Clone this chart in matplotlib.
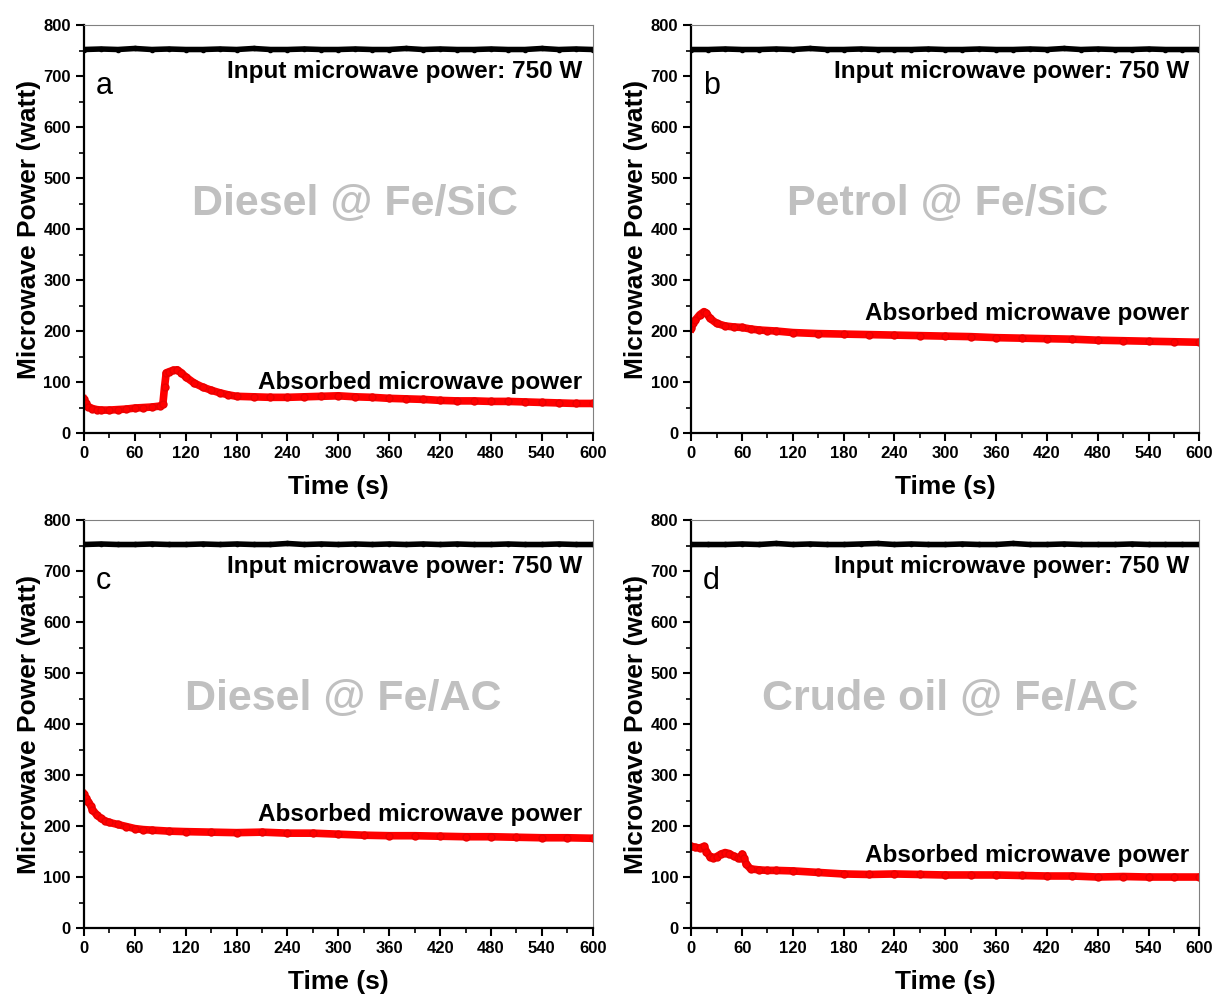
import numpy as np
import matplotlib.pyplot as plt
from matplotlib.ticker import MultipleLocator

plt.rcParams['font.family'] = ['Liberation Sans', 'DejaVu Sans']

# input power (black), sampled every 20 s
t_input = list(range(0, 601, 20))
p_input_a = [752, 753, 752, 754, 752, 753, 752, 752, 753, 752, 754, 752, 752, 753, 752, 752,
             753, 752, 752, 754, 752, 753, 752, 752, 753, 752, 752, 754, 752, 753, 752]
p_input_b = [752, 752, 753, 752, 752, 753, 752, 754, 752, 752, 753, 752, 752, 752, 753, 752,
             752, 753, 752, 752, 753, 752, 754, 752, 753, 752, 752, 753, 752, 752, 752]
p_input_c = [752, 753, 752, 752, 753, 752, 752, 753, 752, 753, 752, 752, 754, 752, 753, 752,
             753, 752, 753, 752, 753, 752, 753, 752, 752, 753, 752, 752, 753, 752, 752]
p_input_d = [752, 752, 752, 753, 752, 754, 752, 753, 752, 752, 753, 754, 752, 753, 752, 752,
             753, 752, 752, 754, 752, 752, 753, 752, 752, 752, 753, 752, 752, 752, 752]

# absorbed power (red)
t_a = [0, 2, 5, 10, 15, 20, 30, 40, 50, 60, 70, 80, 90, 93, 95, 97, 100, 105, 110, 115, 120, 130,
       140, 150, 160, 170, 180, 200, 220, 240, 260, 280, 300, 320, 340, 360, 380, 400, 420, 440,
       460, 480, 500, 520, 540, 560, 580, 600]
p_a = [66, 58, 52, 48, 46, 45, 45, 46, 47, 49, 50, 51, 53, 56, 90, 118, 120, 123, 124, 118, 110, 98,
       90, 84, 79, 75, 72, 71, 70, 70, 71, 72, 73, 71, 70, 68, 67, 66, 64, 63,
       63, 62, 62, 61, 60, 59, 58, 58]

t_b = [0, 2, 5, 10, 15, 18, 22, 30, 40, 50, 60, 70, 80, 90, 100, 120, 150, 180, 210, 240, 270, 300,
       330, 360, 390, 420, 450, 480, 510, 540, 570, 600]
p_b = [205, 215, 222, 232, 238, 235, 225, 215, 210, 208, 207, 204, 202, 201, 200, 197, 195, 194, 193,
       192, 191, 190, 189, 187, 186, 185, 184, 182, 181, 180, 179, 178]

t_c = [0, 2, 5, 8, 10, 15, 20, 25, 30, 40, 50, 60, 70, 80, 100, 120, 150, 180, 210, 240, 270, 300,
       330, 360, 390, 420, 450, 480, 510, 540, 570, 600]
p_c = [262, 255, 248, 240, 232, 222, 215, 210, 207, 203, 199, 195, 193, 192, 190, 189, 188, 187, 188,
       186, 186, 184, 182, 181, 181, 180, 179, 179, 178, 177, 177, 176]

t_d = [0, 5, 10, 15, 18, 22, 26, 30, 35, 40, 45, 50, 55, 58, 60, 62, 65, 70, 80, 90, 100, 120, 150,
       180, 210, 240, 270, 300, 330, 360, 390, 420, 450, 480, 510, 540, 570, 600]
p_d = [160, 158, 157, 160, 150, 140, 138, 140, 145, 148, 146, 141, 138, 137, 145, 138, 125, 116, 114,
       113, 113, 112, 109, 106, 105, 106, 105, 104, 104, 104, 103, 102, 102, 100, 101, 100, 100, 100]

letters = ['a', 'b', 'c', 'd']
titles = ['Diesel @ Fe/SiC', 'Petrol @ Fe/SiC', 'Diesel @ Fe/AC', 'Crude oil @ Fe/AC']
title_x = [320, 303, 306, 306]
absorbed_label_y = [100, 234, 223, 142]

panels = [(t_a, p_a, p_input_a), (t_b, p_b, p_input_b), (t_c, p_c, p_input_c), (t_d, p_d, p_input_d)]
positions = [[0.069, 0.5674, 0.418, 0.4076], [0.568, 0.5674, 0.4175, 0.4076],
             [0.069, 0.0729, 0.418, 0.4076], [0.568, 0.0729, 0.4175, 0.4076]]

fig = plt.figure(figsize=(12.17, 10.01), dpi=100)

for i in range(4):
    ax = fig.add_axes(positions[i])
    t, p, pin = panels[i]
    ax.plot(t_input, pin, color='black', lw=4, marker='o', ms=3)
    ax.plot(t, p, color='#ff0000', lw=5.5, marker='o', ms=5, mec='#e80000')
    ax.set_xlim(0, 600)
    ax.set_ylim(0, 800)
    ax.xaxis.set_major_locator(MultipleLocator(60))
    ax.xaxis.set_minor_locator(MultipleLocator(30))
    ax.yaxis.set_major_locator(MultipleLocator(100))
    ax.yaxis.set_minor_locator(MultipleLocator(50))
    ax.tick_params(which='major', direction='out', length=6, width=1.5, labelsize=12)
    ax.tick_params(which='minor', direction='out', length=3.5, width=1.2)
    for lab in ax.get_xticklabels() + ax.get_yticklabels():
        lab.set_fontweight('bold')
    for s in ['left', 'bottom']:
        ax.spines[s].set_linewidth(1.6)
    for s in ['top', 'right']:
        ax.spines[s].set_linewidth(0.8)
        ax.spines[s].set_color('#808080')
    ax.set_xlabel('Time (s)', fontsize=19, fontweight='bold', labelpad=10)
    ax.set_ylabel('Microwave Power (watt)', fontsize=19, fontweight='bold', labelpad=2)
    ax.text(14, 680, letters[i], fontsize=22, va='center', ha='left')
    ax.text(588, 708, 'Input microwave power: 750 W', fontsize=17.5, fontweight='bold',
            ha='right', va='center')
    ax.text(588, absorbed_label_y[i], 'Absorbed microwave power', fontsize=17.5, fontweight='bold',
            ha='right', va='center')
    ax.text(title_x[i], 450, titles[i], fontsize=31, fontweight='bold', color='#c0c0c0',
            ha='center', va='center')

fig.savefig('out.png', dpi=100)
